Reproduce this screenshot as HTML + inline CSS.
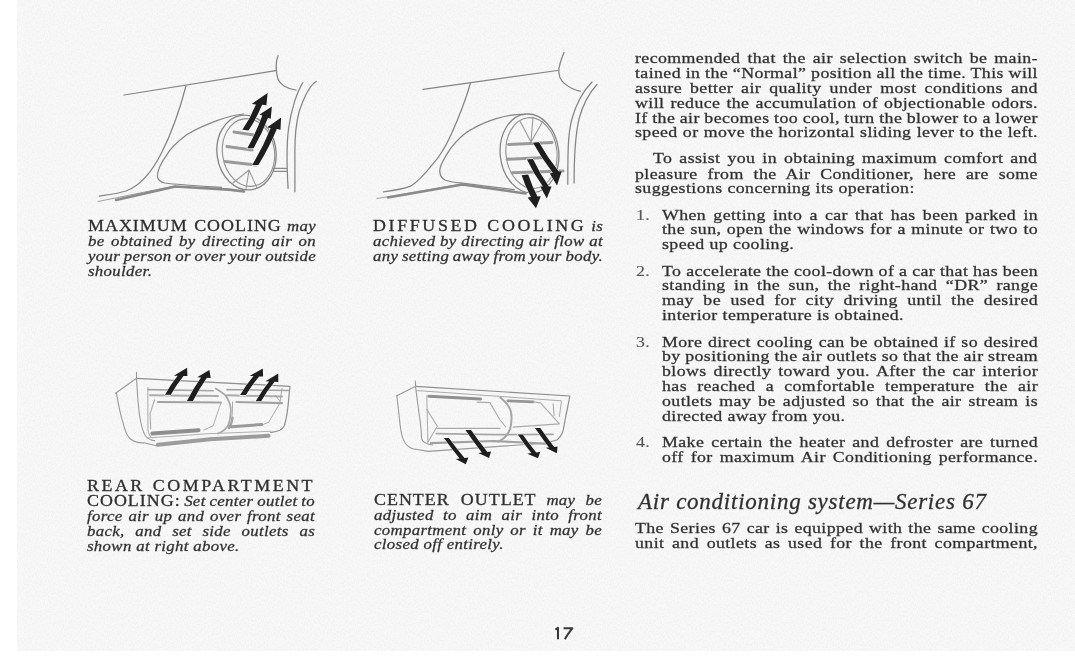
<!DOCTYPE html>
<html><head><meta charset="utf-8">
<style>
html,body{margin:0;padding:0;background:#fff;}
body{width:1075px;height:666px;position:relative;overflow:hidden;}
#wrap{position:absolute;left:0;top:0;width:1075px;height:666px;filter:blur(0.3px);}
#pg{position:absolute;left:17px;top:0;width:1058px;height:651px;background:#f8f8f8;}
.t{position:absolute;font-family:"Liberation Serif",serif;color:#2e2e2e;-webkit-text-stroke:0.3px #3a3a3a;white-space:nowrap;will-change:transform;line-height:20px;height:20px;transform-origin:0 0;text-align:justify;text-align-last:justify;}
.e{text-align-last:left;}
.b{font-size:15.5px;letter-spacing:0.35px;}
.c{font-size:15.0px;letter-spacing:0.0px;}
.c i{font-style:italic;-webkit-text-stroke:0.3px #3a3a3a;letter-spacing:0.3px;}
.cap{letter-spacing:0.9px;font-size:16px;-webkit-text-stroke:0.3px #333;}
.h{font-size:23px;font-style:italic;letter-spacing:0.75px;-webkit-text-stroke:0.3px #3a3a3a;}
.pn{position:absolute;left:555px;top:626px;font-family:"Liberation Sans",sans-serif;font-size:16px;color:#333;}
svg{position:absolute;left:0;top:0;}
</style></head><body>
<div id="wrap">
<div id="pg"></div>
<svg width="1075" height="666" style="position:absolute;left:0;top:0"><defs><filter id="nz" x="0" y="0" width="100%" height="100%"><feTurbulence type="fractalNoise" baseFrequency="0.7 0.45" numOctaves="2" seed="7" result="t"/><feColorMatrix in="t" type="matrix" values="0 0 0 0 0.87  0 0 0 0 0.87  0 0 0 0 0.87  -9 0 0 0 4.6"/></filter></defs><rect x="17" y="0" width="1058" height="651" filter="url(#nz)" opacity="0.5"/></svg>
<svg width="1075" height="666" viewBox="0 0 1075 666" stroke-linecap="round" stroke-linejoin="round">
<path d="M124,95 L275.8,70.7" fill="none" stroke="#858585" stroke-width="1.25" />
<path d="M278,55.6 C276,61 275.5,70 278,79.3 C280,84 286,89 296,90" fill="none" stroke="#858585" stroke-width="1.25" />
<path d="M302.8,82.6 C297,92 291,110 288.5,128.8 C286.5,145 287,170 288.1,188.4" fill="none" stroke="#858585" stroke-width="1.25" />
<path d="M316.3,81.5 C310,85 304,97 299,112 C296,124 294.9,135 294.9,150 L294.9,191.8" fill="none" stroke="#858585" stroke-width="1.25" />
<path d="M186,86 C181,105 172,132 162,152 C152,172 140,186 126,191 C116,194 106,195 99.5,196.2" fill="none" stroke="#858585" stroke-width="1.25" />
<path d="M243.4,114 C230,115 205,124 187,134.5 C177,142 170,149 166.8,154.9 C161,163 157,171 157.5,176.9 C158,180 160,182 165,183 C180,185 200,186 221.5,187.3" fill="none" stroke="#858585" stroke-width="1.25" />
<path d="M98,201.5 L175.4,185.8" fill="none" stroke="#a0a0a0" stroke-width="1.0" />
<path d="M116,200 L175.4,186.5 L229,189.6 L244,191.5" fill="none" stroke="#8a8a8a" stroke-width="2.6" />
<ellipse cx="246.5" cy="152.5" rx="29.5" ry="37.5" transform="rotate(-8 246.5 152.5)" fill="none" stroke="#858585" stroke-width="1.3"/>
<ellipse cx="248.5" cy="152.5" rx="26" ry="34" transform="rotate(-8 248.5 152.5)" fill="none" stroke="#909090" stroke-width="1.1"/>
<path d="M234,132 L254,135" fill="none" stroke="#9a9a9a" stroke-width="3.0" />
<path d="M227,146.5 L252,150" fill="none" stroke="#9a9a9a" stroke-width="3.0" />
<path d="M225,161.5 L256,165" fill="none" stroke="#9a9a9a" stroke-width="3.0" />
<path d="M249,170 L233,183 M249,170 L246,189 M249,170 L257,188" fill="none" stroke="#9a9a9a" stroke-width="1.1" />
<path d="M273.5,168.3 L287,168.3 M273.5,171.3 L287,171.3" fill="none" stroke="#8a8a8a" stroke-width="1.2" />
<path d="M423,89.3 L557.6,70.5" fill="none" stroke="#858585" stroke-width="1.25" />
<path d="M564,52.6 C561,60 558.5,68 558.8,72 C559,79 562.7,83 571.6,88.3 C575,90 578,91 580.5,91" fill="none" stroke="#858585" stroke-width="1.25" />
<path d="M592,82 C584,90 576,104 571.6,120 C568,135 567.8,150 567.8,184" fill="none" stroke="#858585" stroke-width="1.25" />
<path d="M597,84.5 C590,92 583,104 579,119 C575.5,134 574.1,150 574.1,183" fill="none" stroke="#858585" stroke-width="1.25" />
<path d="M470.3,83.7 C467,95 460,115 451.1,134.4 C445,148 440,156 433.1,163.7 C425,174 418,182 410.6,186.2 C400,190 390,191 383.5,191.8" fill="none" stroke="#858585" stroke-width="1.25" />
<path d="M525.5,114.1 C515,114 505,116 496.2,118.6 C485,122 475,127 466.9,132.1 C458,139 451,147 446.6,154.6 C442,162 439,168 439.9,172 C440,176 441,178 445,180 C450,182 455,182.5 460.1,182.8 L514.2,189.6" fill="none" stroke="#858585" stroke-width="1.25" />
<path d="M376.8,198.6 L462.4,184" fill="none" stroke="#a0a0a0" stroke-width="1.0" />
<path d="M388,197.5 L462.4,184.5 L525.5,193.5" fill="none" stroke="#8a8a8a" stroke-width="2.6" />
<ellipse cx="529.5" cy="153.4" rx="29.3" ry="39.5" transform="rotate(-6 529.5 153.4)" fill="none" stroke="#858585" stroke-width="1.3"/>
<ellipse cx="531.5" cy="153" rx="25.5" ry="35.5" transform="rotate(-6 531.5 153)" fill="none" stroke="#909090" stroke-width="1.1"/>
<path d="M508.6,144.5 L552,142.5" fill="none" stroke="#9a9a9a" stroke-width="3.0" />
<path d="M507,159.2 L546,157.5" fill="none" stroke="#9a9a9a" stroke-width="3.0" />
<path d="M512,172.7 L563,171" fill="none" stroke="#9a9a9a" stroke-width="3.0" />
<path d="M531,142 L520,121 M531,142 L533,117 M531,142 L543,121" fill="none" stroke="#9a9a9a" stroke-width="1.1" />
<path d="M115.5,393.3 L136.5,378.3 M136.5,372.3 L136.5,378.3" fill="none" stroke="#9a9a9a" stroke-width="1.1" />
<path d="M136.5,378.3 L290,386.3 C289,395 288.5,402 287.7,408.8 C286.5,418 285.5,422 284.3,425.7 C283,428 281.5,429.5 279.8,430.2 C276,431.5 273,432 270.8,432.4" fill="none" stroke="#8e8e8e" stroke-width="1.2" />
<path d="M116.3,392.5 C118,402 120,414 123,422.6 C125,431 128,437 130.5,439 C134,442 139,443 144,442.8 L157.5,446" fill="none" stroke="#9a9a9a" stroke-width="1.1" />
<path d="M136.5,378.3 C137.5,395 138,405 139.5,415 C141,425 143,432 145.5,436 C148,439 151,440.5 154.5,440.6" fill="none" stroke="#9a9a9a" stroke-width="1.1" />
<path d="M147.9,387.4 L147.9,429 C148.5,434 150,437 152.4,438" fill="none" stroke="#a8a8a8" stroke-width="1.0" />
<path d="M147.9,389.6 L213.2,390.8 M226.9,389.6 L289,390.5" fill="none" stroke="#a5a5a5" stroke-width="1.6" />
<path d="M150,395.3 L218,396 M226.9,395.3 L282,396.4" fill="none" stroke="#ababab" stroke-width="2.0" />
<path d="M158,402 L221,402.5 M236.5,402 L282,403.2" fill="none" stroke="#a3a3a3" stroke-width="2.2" />
<path d="M154.6,399.8 L150.1,413.3 L150.7,429" fill="none" stroke="#aaaaaa" stroke-width="1.1" />
<path d="M215.6,388.5 C221,392 225,394 226.9,397.5 C229.5,402 231,406 230.8,411 C230.5,417 230,421 228,425.7 C225,430 222,432 217.9,433.6" fill="none" stroke="#a5a5a5" stroke-width="1.6" />
<path d="M232.5,417.8 C232,421 231,425 229,428" fill="none" stroke="#a0a0a0" stroke-width="2.4" />
<path d="M221,402.5 L213.2,425.7 L204,430" fill="none" stroke="#b0b0b0" stroke-width="1.0" />
<path d="M232.5,402 L232.5,408.8 L231.4,424.5" fill="none" stroke="#aaaaaa" stroke-width="1.0" />
<path d="M282,388.5 L279.8,403.2 L268.6,422.3 L263,424.5 M275.3,395.3 L279.8,400.9" fill="none" stroke="#a8a8a8" stroke-width="1.0" />
<path d="M152.4,433.6 L198.6,430.2" fill="none" stroke="#8e8e8e" stroke-width="4.0" />
<path d="M231.4,426.8 L261.8,424.5" fill="none" stroke="#9a9a9a" stroke-width="3.0" />
<path d="M146.8,438 L210,433.6 L270.8,431.3" fill="none" stroke="#b0b0b0" stroke-width="1.0" />
<path d="M158,444.8 L210,439.2 L268.6,435.8" fill="none" stroke="#9c9c9c" stroke-width="4.0" />
<path d="M396.8,395.7 L415.7,386.2 M415.3,381 L415.7,386.2" fill="none" stroke="#9a9a9a" stroke-width="1.1" />
<path d="M415.5,386.3 L569.9,396 C568,405 567,411 565.7,416.5 C564.5,424 563.5,429 562.6,432.3 C561,436 559,438.5 557.3,439.7 C554,441 551,441.5 548.9,441.8" fill="none" stroke="#8e8e8e" stroke-width="1.2" />
<path d="M396.8,395.7 C398,405 399,415 400,424 C401,433 403,440 405.2,443 C408,447 411,449 415.7,449.3 L428.3,451.4 L548,443" fill="none" stroke="#9a9a9a" stroke-width="1.1" />
<path d="M415.5,386.3 C417,398 418.5,410 420,419.8 C421,428 421.5,434 421.6,438.9 C423,442 426,444 432.5,445" fill="none" stroke="#9a9a9a" stroke-width="1.1" />
<path d="M416.3,390.5 L561.5,400.8 L559.4,416.5" fill="none" stroke="#aaaaaa" stroke-width="1.0" />
<path d="M426.8,395.8 L427.9,443" fill="none" stroke="#aaaaaa" stroke-width="1.0" />
<path d="M428.9,396.3 L480.5,398.9" fill="none" stroke="#909090" stroke-width="3.0" />
<path d="M507.9,400.8 L533.1,401.8" fill="none" stroke="#959595" stroke-width="2.8" />
<path d="M477.3,402.1 L489.9,402.6 L500,420 L505.8,427 M426.8,409.4 L437.3,426.3 L427.9,442 M437.3,428.4 L500,428.4" fill="none" stroke="#aaaaaa" stroke-width="1.1" />
<path d="M533.1,401.8 L540.5,402.9 L559.4,423.9 L513.1,427.1 M553.1,403.9 L554.1,415.5" fill="none" stroke="#aaaaaa" stroke-width="1.1" />
<path d="M500.5,397.6 C506,402 510,407 511,412.3 C512,418 511.5,424 510,429.2 C508,435 504,439 498.4,441.8" fill="none" stroke="#a5a5a5" stroke-width="2.0" />
<path d="M436.3,433.6 L494,434.7 L553,434.4" fill="none" stroke="#a8a8a8" stroke-width="1.8" />
<path d="M431,443.1 L494,441 L548.9,443.9" fill="none" stroke="#a0a0a0" stroke-width="2.2" />
<g fill="#1e1e1e" stroke="#fafafa" stroke-width="0.9" paint-order="stroke"><path d="M242.4,129.8 Q250.5,117.8 255.9,104.4 L251.6,104.0 L267.6,92.9 L266.4,105.2 L262.1,104.8 Q256.6,118.4 248.5,130.5 Z"/>
<path d="M247.3,148.3 Q256.1,132.5 262.3,115.5 L259.6,114.5 L271.9,106.5 L270.7,118.8 L268.0,117.8 Q262.1,133.7 253.5,148.3 Z"/>
<path d="M252.2,164.9 Q263.1,147.3 270.7,128.1 L267.0,127.4 L281.1,117.5 L280.5,129.8 L276.8,129.1 Q269.2,147.8 258.4,164.9 Z"/>
<path d="M533.0,142.8 Q541.7,158.6 552.8,172.8 L549.8,173.4 L557.0,185.4 L561.8,171.0 L558.8,171.6 Q547.6,157.7 539.0,142.2 Z"/>
<path d="M527.0,159.6 Q533.6,173.9 542.9,186.6 L540.2,186.6 L546.8,198.6 L551.6,186.6 L548.9,186.6 Q539.7,173.5 533.0,159.0 Z"/>
<path d="M521.6,175.2 Q525.3,186.5 530.9,197.1 L527.6,197.4 L536.0,208.3 L540.8,196.2 L537.5,196.5 Q531.9,185.9 528.2,174.6 Z"/>
<path d="M165.0,394.8 Q170.5,384.7 177.7,375.8 L173.8,375.7 L187.1,367.8 L187.4,376.0 L183.5,375.9 Q176.3,384.8 170.8,394.8 Z"/>
<path d="M186.8,401.2 Q193.0,388.8 201.0,377.4 L197.2,377.2 L209.4,370.1 L210.7,377.9 L206.9,377.7 Q199.0,388.9 192.8,401.2 Z"/>
<path d="M240.1,395.1 Q246.0,385.0 253.5,376.1 L249.6,375.9 L262.8,368.4 L263.1,376.6 L259.2,376.4 Q251.8,385.2 245.9,395.1 Z"/>
<path d="M255.7,401.2 Q261.6,390.8 269.2,381.5 L265.5,381.3 L278.3,373.5 L278.3,382.0 L274.6,381.8 Q267.0,390.9 261.1,401.2 Z"/>
<path d="M444.0,438.0 Q451.4,448.6 459.6,458.6 L455.7,459.0 L465.8,464.3 L468.4,457.6 L464.5,458.0 Q456.3,448.3 448.9,438.0 Z"/>
<path d="M465.4,430.1 Q473.2,441.6 481.8,452.6 L478.2,453.0 L489.1,458.0 L491.0,451.6 L487.4,452.0 Q478.8,441.3 471.0,430.1 Z"/>
<path d="M517.8,434.5 Q524.2,444.1 531.3,453.1 L527.2,453.7 L538.0,458.2 L540.3,451.8 L536.2,452.4 Q529.0,443.7 522.7,434.5 Z"/>
<path d="M535.0,428.1 Q541.6,438.0 549.0,447.4 L545.6,447.7 L556.8,453.3 L557.6,446.6 L554.2,446.9 Q546.9,437.8 540.3,428.1 Z"/></g>
</svg>
<div class="t b" style="left:634.5px;top:48.1px;width:350.4px;transform:scaleX(1.15);">recommended that the air selection switch be main-</div>
<div class="t b" style="left:634.5px;top:63.1px;width:350.4px;transform:scaleX(1.15);word-spacing:-0.21px;">tained in the “Normal” position all the time. This will</div>
<div class="t b" style="left:634.5px;top:77.8px;width:350.4px;transform:scaleX(1.15);">assure better air quality under most conditions and</div>
<div class="t b" style="left:634.5px;top:92.8px;width:350.4px;transform:scaleX(1.15);">will reduce the accumulation of objectionable odors.</div>
<div class="t b" style="left:634.5px;top:107.8px;width:350.4px;transform:scaleX(1.15);word-spacing:-0.35px;">If the air becomes too cool, turn the blower to a lower</div>
<div class="t b" style="left:634.5px;top:122.3px;width:350.4px;transform:scaleX(1.15);">speed or move the horizontal sliding lever to the left.</div>
<div class="t b" style="left:653.2px;top:148.1px;width:334.2px;transform:scaleX(1.15);">To assist you in obtaining maximum comfort and</div>
<div class="t b" style="left:634.5px;top:163.5px;width:350.4px;transform:scaleX(1.15);">pleasure from the Air Conditioner, here are some</div>
<div class="t b e" style="left:634.5px;top:178.0px;width:350.4px;transform:scaleX(1.15);">suggestions concerning its operation:</div>
<div class="t b e" style="left:635.5px;top:204.6px;width:17.4px;transform:scaleX(1.15);"><span style="color:#555;-webkit-text-stroke:0.1px #555">1.</span></div>
<div class="t b" style="left:661.5px;top:204.6px;width:327.0px;transform:scaleX(1.15);">When getting into a car that has been parked in</div>
<div class="t b" style="left:661.5px;top:219.1px;width:327.0px;transform:scaleX(1.15);">the sun, open the windows for a minute or two to</div>
<div class="t b e" style="left:661.5px;top:234.0px;width:327.0px;transform:scaleX(1.15);">speed up cooling.</div>
<div class="t b e" style="left:635.5px;top:260.8px;width:17.4px;transform:scaleX(1.15);"><span style="color:#555;-webkit-text-stroke:0.1px #555">2.</span></div>
<div class="t b" style="left:661.5px;top:260.8px;width:327.0px;transform:scaleX(1.15);word-spacing:-0.17px;">To accelerate the cool-down of a car that has been</div>
<div class="t b" style="left:661.5px;top:275.3px;width:327.0px;transform:scaleX(1.15);">standing in the sun, the right-hand “DR” range</div>
<div class="t b" style="left:661.5px;top:289.9px;width:327.0px;transform:scaleX(1.15);">may be used for city driving until the desired</div>
<div class="t b e" style="left:661.5px;top:304.6px;width:327.0px;transform:scaleX(1.15);">interior temperature is obtained.</div>
<div class="t b e" style="left:635.5px;top:331.6px;width:17.4px;transform:scaleX(1.15);"><span style="color:#555;-webkit-text-stroke:0.1px #555">3.</span></div>
<div class="t b" style="left:661.5px;top:331.6px;width:327.0px;transform:scaleX(1.15);">More direct cooling can be obtained if so desired</div>
<div class="t b" style="left:661.5px;top:346.3px;width:327.0px;transform:scaleX(1.15);word-spacing:-0.32px;">by positioning the air outlets so that the air stream</div>
<div class="t b" style="left:661.5px;top:361.4px;width:327.0px;transform:scaleX(1.15);">blows directly toward you. After the car interior</div>
<div class="t b" style="left:661.5px;top:376.4px;width:327.0px;transform:scaleX(1.15);">has reached a comfortable temperature the air</div>
<div class="t b" style="left:661.5px;top:391.3px;width:327.0px;transform:scaleX(1.15);">outlets may be adjusted so that the air stream is</div>
<div class="t b e" style="left:661.5px;top:405.9px;width:327.0px;transform:scaleX(1.15);">directed away from you.</div>
<div class="t b e" style="left:635.5px;top:432.4px;width:17.4px;transform:scaleX(1.15);"><span style="color:#555;-webkit-text-stroke:0.1px #555">4.</span></div>
<div class="t b" style="left:661.5px;top:432.4px;width:327.0px;transform:scaleX(1.15);">Make certain the heater and defroster are turned</div>
<div class="t b" style="left:661.5px;top:447.0px;width:327.0px;transform:scaleX(1.15);">off for maximum Air Conditioning performance.</div>
<div class="t h e" style="left:638.2px;top:492.2px;width:350.0px;transform:scaleX(1.0);">Air conditioning system—Series 67</div>
<div class="t b" style="left:634.5px;top:517.8px;width:350.4px;transform:scaleX(1.15);">The Series 67 car is equipped with the same cooling</div>
<div class="t b" style="left:634.5px;top:532.7px;width:350.4px;transform:scaleX(1.15);">unit and outlets as used for the front compartment,</div>
<div class="t c" style="left:88px;top:215.5px;width:203.6px;transform:scaleX(1.12);"><span class="cap">MAXIMUM COOLING</span> <i>may</i></div>
<div class="t c" style="left:88px;top:231.0px;width:203.6px;transform:scaleX(1.12);"><i>be obtained by directing air on</i></div>
<div class="t c" style="left:88px;top:246.0px;width:203.6px;transform:scaleX(1.12);word-spacing:-0.98px;"><i>your person or over your outside</i></div>
<div class="t c e" style="left:88px;top:260.8px;width:203.6px;transform:scaleX(1.12);"><i>shoulder.</i></div>
<div class="t c" style="left:373px;top:216.0px;width:205.4px;transform:scaleX(1.12);"><span class="cap" style="letter-spacing:2.35px">DIFFUSED COOLING</span> <i>is</i></div>
<div class="t c" style="left:373px;top:231.0px;width:205.4px;transform:scaleX(1.12);"><i>achieved by directing air flow at</i></div>
<div class="t c" style="left:373px;top:245.5px;width:205.4px;transform:scaleX(1.12);word-spacing:-0.93px;"><i>any setting away from your body.</i></div>
<div class="t c" style="left:87.4px;top:475.6px;width:203.6px;transform:scaleX(1.12);"><span class="cap" style="letter-spacing:2.23px">REAR COMPARTMENT</span></div>
<div class="t c" style="left:87.4px;top:491.3px;width:203.6px;transform:scaleX(1.12);word-spacing:-0.92px;"><span class="cap">COOLING:</span> <i>Set center outlet to</i></div>
<div class="t c" style="left:87.4px;top:505.8px;width:203.6px;transform:scaleX(1.12);"><i>force air up and over front seat</i></div>
<div class="t c" style="left:87.4px;top:520.8px;width:203.6px;transform:scaleX(1.12);"><i>back, and set side outlets as</i></div>
<div class="t c e" style="left:87.4px;top:535.5px;width:203.6px;transform:scaleX(1.12);"><i>shown at right above.</i></div>
<div class="t c" style="left:373.5px;top:490.1px;width:203.6px;transform:scaleX(1.12);"><span class="cap">CENTER OUTLET</span> <i>may be</i></div>
<div class="t c" style="left:373.5px;top:504.6px;width:203.6px;transform:scaleX(1.12);"><i>adjusted to aim air into front</i></div>
<div class="t c" style="left:373.5px;top:519.5px;width:203.6px;transform:scaleX(1.12);"><i>compartment only or it may be</i></div>
<div class="t c e" style="left:373.5px;top:534.1px;width:203.6px;transform:scaleX(1.12);"><i>closed off entirely.</i></div>
<svg width="1075" height="666" style="position:absolute;left:0;top:0"><path d="M555.4,629.6 C556.5,629 557.5,628.3 558,627.9 L558,639.3 M563.6,628.2 L572.4,628.2 C569.5,632 566.5,636 564.9,639.3" fill="none" stroke="#383838" stroke-width="2" stroke-linejoin="round"/></svg>
</div>
</body></html>
